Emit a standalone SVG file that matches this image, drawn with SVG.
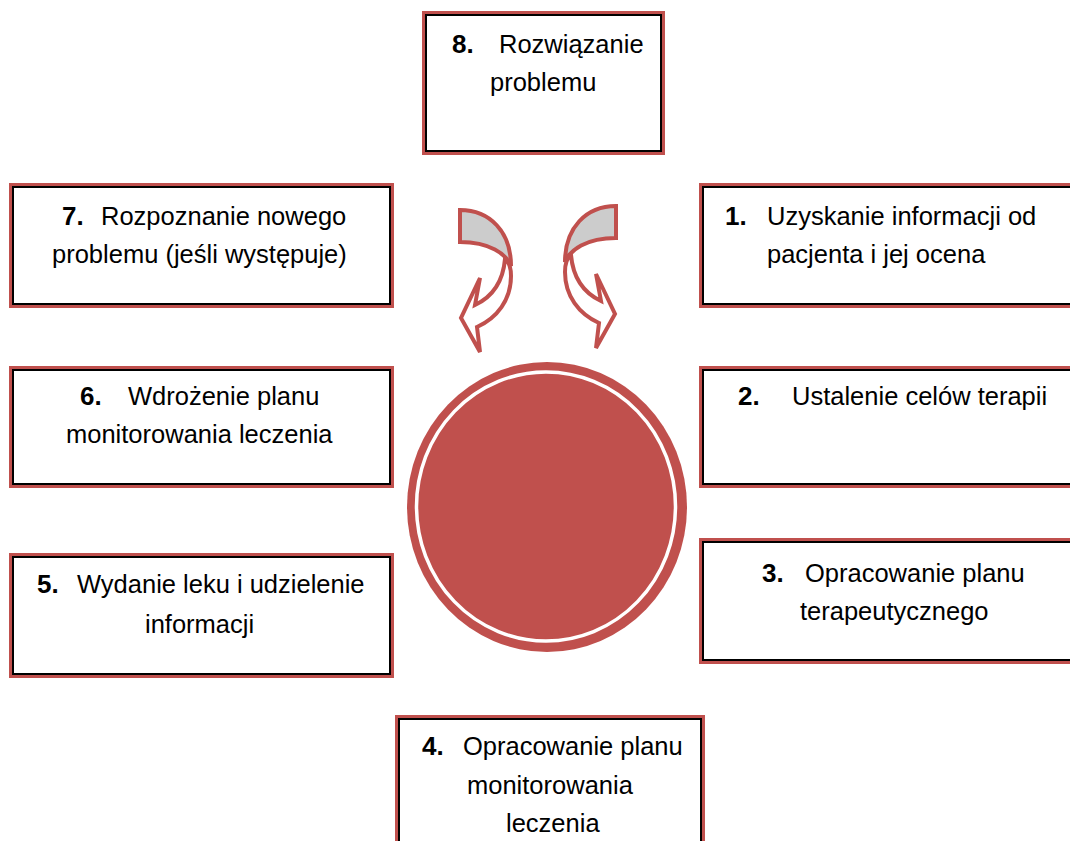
<svg xmlns="http://www.w3.org/2000/svg" width="1070" height="841" viewBox="0 0 1070 841">
<style>
.red{fill:#ffffff;stroke:#c0504d;stroke-width:3}
.blk{fill:none;stroke:#000000;stroke-width:2}
text{font-family:"Liberation Sans",Arial,sans-serif;font-size:25.5px;fill:#000000}
.n{font-weight:bold;font-size:26px}
.arr{stroke:#c0504d;stroke-width:4;stroke-linejoin:miter}
</style>
<rect width="1070" height="841" fill="#ffffff"/>
<g id="node8">
<rect class="red" x="423.5" y="12.5" width="240" height="141"/>
<rect class="blk" x="426" y="15" width="235" height="136"/>
<text class="n" x="452" y="53">8.</text><text x="499" y="53">Rozwiązanie</text>
<text x="490" y="91">problemu</text>
</g>
<g id="node7">
<rect class="red" x="10.5" y="184.5" width="382" height="122"/>
<rect class="blk" x="13" y="187" width="377" height="117"/>
<text class="n" x="62" y="225">7.</text><text x="101" y="225">Rozpoznanie nowego</text>
<text x="52" y="263">problemu (jeśli występuje)</text>
</g>
<g id="node1">
<rect class="red" x="700.5" y="184.5" width="380" height="122"/>
<rect class="blk" x="703" y="187" width="375" height="117"/>
<text class="n" x="725" y="225">1.</text><text x="767" y="225">Uzyskanie informacji od</text>
<text x="767" y="263">pacjenta i jej ocena</text>
</g>
<g id="node6">
<rect class="red" x="10.5" y="367.5" width="382" height="119"/>
<rect class="blk" x="13" y="370" width="377" height="114"/>
<text class="n" x="80" y="405">6.</text><text x="128" y="405">Wdrożenie planu</text>
<text x="66" y="443">monitorowania leczenia</text>
</g>
<g id="node2">
<rect class="red" x="700.5" y="367.5" width="380" height="119"/>
<rect class="blk" x="703" y="370" width="375" height="114"/>
<text class="n" x="738" y="405">2.</text><text x="792" y="405">Ustalenie celów terapii</text>
</g>
<g id="node5">
<rect class="red" x="10.5" y="554.5" width="382" height="122"/>
<rect class="blk" x="13" y="557" width="377" height="117"/>
<text class="n" x="37" y="593">5.</text><text x="77" y="593">Wydanie leku i udzielenie</text>
<text x="145" y="633">informacji</text>
</g>
<g id="node3">
<rect class="red" x="700.5" y="539.5" width="380" height="123"/>
<rect class="blk" x="703" y="542" width="375" height="118"/>
<text class="n" x="762" y="582">3.</text><text x="805" y="582">Opracowanie planu</text>
<text x="800" y="620">terapeutycznego</text>
</g>
<g id="node4">
<rect class="red" x="396.5" y="716.5" width="307" height="140"/>
<rect class="blk" x="399" y="719" width="302" height="135"/>
<text class="n" x="422" y="755">4.</text><text x="463" y="755">Opracowanie planu</text>
<text x="467" y="794">monitorowania</text>
<text x="506" y="832">leczenia</text>
</g>
<g id="center">
<ellipse cx="547" cy="507" rx="140" ry="145" fill="#c0504d"/>
<ellipse cx="546" cy="506.5" rx="129.5" ry="134.5" fill="none" stroke="#ffffff" stroke-width="3.5"/>
</g>
<g id="connectors">
<g id="arrowLeft">
<path class="arr" fill="#cccccc" d="M460,210 C490,210 511,232 511,266 C506,254 490,242 460,242 Z"/>
<path class="arr" fill="#ffffff" d="M505,259 C509,262 511,267 511,276 C511,300 497,318 477,327 L480,352 L461,318 L480,278 L475,305 C492,297 503,282 505,259 Z"/>
</g>
<g id="arrowRight" transform="translate(1076,-4) scale(-1,1)">
<path class="arr" fill="#cccccc" d="M460,210 C490,210 511,232 511,266 C506,254 490,242 460,242 Z"/>
<path class="arr" fill="#ffffff" d="M505,259 C509,262 511,267 511,276 C511,300 497,318 477,327 L480,352 L461,318 L480,278 L475,305 C492,297 503,282 505,259 Z"/>
</g>
</g>
</svg>
